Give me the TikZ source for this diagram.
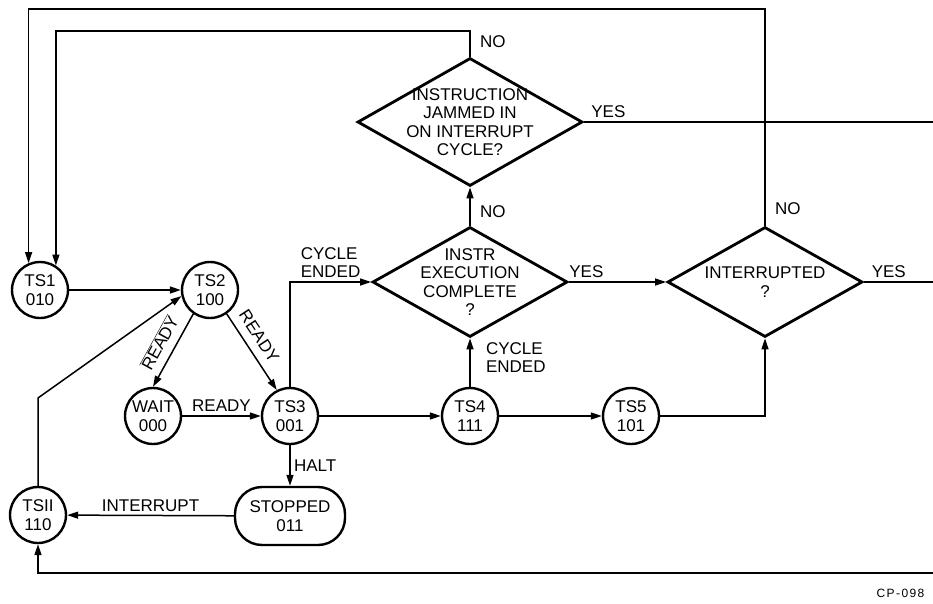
\documentclass[tikz,border=0pt]{standalone}
\usepackage{fontspec}
\setmainfont{Liberation Sans}
\usetikzlibrary{arrows.meta,shapes.geometric}

\begin{document}
\begin{tikzpicture}[x=1pt,y=-1pt,
    font=\fontsize{17}{18.5}\selectfont,
    >={Triangle[length=11pt,width=7pt]},
    state/.style={draw,circle,line width=2.4pt,minimum size=56pt,inner sep=0pt,align=center},
    halted/.style={draw,rounded corners=27pt,line width=2.4pt,minimum width=110pt,minimum height=58pt,align=center},
    test/.style={draw,diamond,aspect=1.75,line width=2.8pt,inner sep=-14pt,align=center},
    flow/.style={line width=1.5pt}]
  \useasboundingbox (0,0) rectangle (933,604);
  \draw
    (40,290) node[state] (ts1) {TS1\\010}
    (210,290) node[state] (ts2) {TS2\\100}
    (153,416) node[state] (wait) {WAIT\\000}
    (290,416) node[state] (ts3) {TS3\\001}
    (470,416) node[state] (ts4) {TS4\\111}
    (631,416) node[state] (ts5) {TS5\\101}
    (290,516) node[halted] (stop) {STOPPED\\011}
    (38,515) node[state] (tsii) {TSII\\110}
    (470,122) node[test,minimum width=225pt,minimum height=128pt] (jam) {INSTRUCTION\\JAMMED IN\\ON INTERRUPT\\CYCLE?}
    (470,282) node[test,minimum width=195pt,minimum height=110pt] (instr) {INSTR\\EXECUTION\\COMPLETE\\?}
    (765,282) node[test,minimum width=195pt,minimum height=110pt] (int) {INTERRUPTED\\?};
  \coordinate (jamtop) at (470,31);
  \coordinate (inttop) at (765,9);
  \coordinate (jamout) at (933,122);
  \coordinate (intout) at (933,282);
  \coordinate (ret) at (933,573);
  \coordinate (tsiibend) at (38,398);
  \begin{scope}[->,flow]
    \draw (ts1) to (ts2);
    \draw (ts2.235) to node[sloped,above=5pt] (nrdy) {$\overline{\hbox{READY}}$} (wait.north);
    \draw (ts2.-55) to node[sloped,above=5pt,pos=0.4] (rdy1) {READY} (ts3.117);
    \draw (wait) to node[above] (rdy2) {READY} (ts3);
    \draw (ts3) |- node[pos=0.75,above,align=left] (cyc1) {CYCLE\\ENDED} (instr.west);
    \draw (ts3) to (ts4);
    \draw (ts3) to node[right] (halt) {HALT} (stop);
    \draw (stop) to node[above] (intr) {INTERRUPT} (tsii);
    \draw (ts4) to node[pos=0.6,right=12pt,align=left] (cyc2) {CYCLE\\ENDED} (instr.south);
    \draw (instr.north) to node[pos=0.37,right=6pt] (no1) {NO} (jam.south);
    \draw (instr.east) to node[pos=0.18,above] (yes1) {YES} (int.west);
    \draw (ts4) to (ts5);
    \draw (ts5) -| (int.south);
    \draw (jam.north) to node[pos=0.6,right=6pt] (no2) {NO} (jamtop) -| (ts1.57);
    \draw (int.north) to node[pos=0.08,right=6pt] (no3) {NO} (inttop) -| (ts1.113);
    \draw (ret) -| (tsii);
    \draw (tsii) -- (tsiibend) -- (ts2.192);
  \end{scope}
  \begin{scope}[flow]
    \draw (jam.east) to node[pos=0.07,above] (yes2) {YES} (jamout);
    \draw (int.east) to node[pos=0.36,above] (yes3) {YES} (intout);
  \end{scope}
  \node[anchor=west,font=\fontsize{12}{14}\selectfont\addfontfeature{LetterSpace=12}] (cpno) at (873,593) {CP-098};
\end{tikzpicture}
\end{document}
